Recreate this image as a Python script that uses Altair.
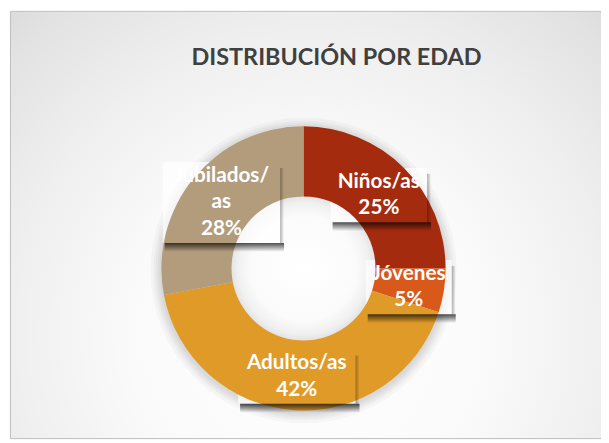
import math
import altair as alt

# ---- data ----
categories = ["Niños/as", "Jóvenes", "Adultos/as", "Jubilados/as"]
category_lines = [["Niños/as"], ["Jóvenes"], ["Adultos/as"], ["Jubilados/", "as"]]
values = [25, 5, 42, 28]
colors = ["#A52B0F", "#D9591B", "#E09A27", "#B39C7C"]
title_text = "DISTRIBUCIÓN POR EDAD"

# ---- layout ----
W, H = 601, 434
CX, CY = 299.5, 261
R_OUT, R_IN, R_LBL = 144, 73, 108
LBL_DY = 2
FONT = "Lato"
LH = 27

records = []
for i, (c, v, nl) in enumerate(zip(categories, values, category_lines)):
    lines = nl + [f"{v}%"]
    records.append({
        "cat": c, "value": v, "order": i, "lines": lines,
        "chars": max(len(s) for s in lines), "nlines": len(lines),
    })
data = alt.Data(values=records)
one = alt.Data(values=[{"k": 1}])

# background (radial gradient + frame)
bg_grad = alt.RadialGradient(
    gradient="radial",
    x1=0.5, y1=0.68, r1=0, x2=0.5, y2=0.68, r2=1.0,
    stops=[
        alt.GradientStop(offset=0.0, color="#ffffff"),
        alt.GradientStop(offset=0.3, color="#fafafa"),
        alt.GradientStop(offset=0.5, color="#efefef"),
        alt.GradientStop(offset=0.68, color="#e2e2e2"),
        alt.GradientStop(offset=0.88, color="#cbcbcb"),
        alt.GradientStop(offset=1.0, color="#c4c4c4"),
    ],
)
background = alt.Chart(one).mark_rect(
    fill=bg_grad, stroke="#bdbdbd", strokeWidth=1
).encode(x=alt.value(2.5), x2=alt.value(W + 10), y=alt.value(0.5), y2=alt.value(H - 0.5))

# soft shadow around the ring
halos = []
for ro in [146, 148, 150, 152, 155]:
    halos.append(
        alt.Chart(one).mark_arc(
            theta=0, theta2=2 * math.pi, innerRadius=R_IN, outerRadius=ro,
            fill="black", opacity=0.028,
        ).encode(x=alt.value(CX), y=alt.value(CY + 2))
    )

# the hole, softly shaded at its rim
hole_grad = alt.RadialGradient(
    gradient="radial", x1=0.5, y1=0.5, r1=0, x2=0.5, y2=0.5, r2=0.5,
    stops=[
        alt.GradientStop(offset=0.0, color="#ffffff"),
        alt.GradientStop(offset=0.72, color="#fbfbfb"),
        alt.GradientStop(offset=0.9, color="#f0f0f0"),
        alt.GradientStop(offset=1.0, color="#e2e2e2"),
    ],
)
hole = alt.Chart(one).mark_arc(
    theta=0, theta2=2 * math.pi, innerRadius=0, outerRadius=R_IN + 1, fill=hole_grad,
).encode(x=alt.value(CX), y=alt.value(CY))

# label geometry derived from the values
geo = (
    alt.Chart(data)
    .transform_joinaggregate(total="sum(value)")
    .transform_window(cum="sum(value)", sort=[alt.SortField("order")], frame=[None, 0])
    .transform_calculate(mid="(datum.cum - datum.value / 2) / datum.total * 2 * PI")
    .transform_calculate(cx=f"{CX} + {R_LBL} * sin(datum.mid)")
    .transform_calculate(cy=f"{CY + LBL_DY} - {R_LBL} * cos(datum.mid)")
    .transform_calculate(ty=f"datum.cy - (datum.nlines - 1) * {LH} / 2")
    .transform_calculate(w="10.6 * datum.chars + 13")
    .transform_calculate(h=f"{LH} * datum.nlines + 1")
    .transform_calculate(bx1="datum.cx - datum.w / 2")
    .transform_calculate(bx2="datum.cx + datum.w / 2")
    .transform_calculate(by1="datum.cy - datum.h / 2")
    .transform_calculate(by2="datum.cy + datum.h / 2")
    .transform_calculate(sbx1="datum.bx1 + 2")
    .transform_calculate(sbx2="datum.bx2 + 4")
    .transform_calculate(sby2="datum.by2 + 9")
    .transform_calculate(sry1="datum.by1 + 6")
    .transform_calculate(srx2="datum.bx2 + 4")
)

boxes = geo.mark_rect(fill="white", opacity=0.7).encode(
    x=alt.X("bx1:Q", scale=None, axis=None), x2="bx2:Q",
    y=alt.Y("by1:Q", scale=None, axis=None), y2="by2:Q",
)

donut = alt.Chart(data).mark_arc(innerRadius=R_IN, outerRadius=R_OUT).encode(
    theta=alt.Theta("value:Q", stack=True),
    color=alt.Color("cat:N", scale=alt.Scale(domain=categories, range=colors), legend=None),
    order=alt.Order("order:Q", sort="ascending"),
    x=alt.value(CX), y=alt.value(CY),
)

shadow_b_grad = alt.LinearGradient(
    gradient="linear", x1=0, y1=0, x2=0, y2=1,
    stops=[
        alt.GradientStop(offset=0, color="rgba(0,0,0,0.7)"),
        alt.GradientStop(offset=0.5, color="rgba(0,0,0,0.35)"),
        alt.GradientStop(offset=1, color="rgba(0,0,0,0)"),
    ],
)
shadow_r_grad = alt.LinearGradient(
    gradient="linear", x1=0, y1=0, x2=1, y2=0,
    stops=[
        alt.GradientStop(offset=0, color="rgba(0,0,0,0.3)"),
        alt.GradientStop(offset=1, color="rgba(0,0,0,0)"),
    ],
)
shadow_bottom = geo.mark_rect(fill=shadow_b_grad).encode(
    x=alt.X("sbx1:Q", scale=None, axis=None), x2="sbx2:Q",
    y=alt.Y("by2:Q", scale=None, axis=None), y2="sby2:Q",
)
shadow_right = geo.mark_rect(fill=shadow_r_grad).encode(
    x=alt.X("bx2:Q", scale=None, axis=None), x2="srx2:Q",
    y=alt.Y("sry1:Q", scale=None, axis=None), y2="by2:Q",
)

labels = geo.mark_text(
    font=FONT, fontWeight="bold", fontSize=21, color="white",
    align="center", baseline="middle", lineHeight=LH,
).encode(
    x=alt.X("cx:Q", scale=None, axis=None),
    y=alt.Y("ty:Q", scale=None, axis=None),
    text="lines:N",
)

title = alt.Chart(alt.Data(values=[{"t": title_text}])).mark_text(
    font=FONT, fontWeight="bold", fontSize=23.7, color="#404040",
    align="center", baseline="alphabetic",
).encode(text="t:N", x=alt.value(333), y=alt.value(55))

chart = alt.layer(
    background, *halos, hole, boxes, donut, shadow_bottom, shadow_right, labels, title
).properties(
    width=W, height=H, padding=0, autosize=alt.AutoSizeParams(type="none")
).configure_view(stroke=None)

chart.save("out.html", embed_options={"renderer": "svg", "actions": False})
